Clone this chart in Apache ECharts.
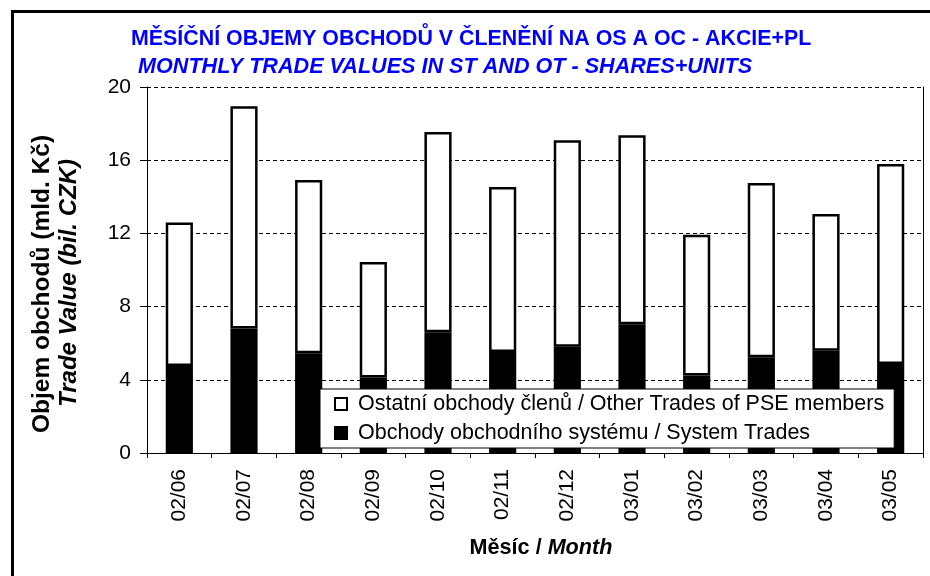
<!DOCTYPE html>
<html>
<head>
<meta charset="utf-8">
<script src="https://cdn.jsdelivr.net/npm/echarts@6/dist/echarts.min.js"></script>
<style>
  html, body { margin: 0; padding: 0; background: #fff; }
  #chart { width: 930px; height: 576px; }
</style>
</head>
<body>
<div id="chart"></div>
<script>
const months = ["02/06", "02/07", "02/08", "02/09", "02/10", "02/11", "02/12", "03/01", "03/02", "03/03", "03/04", "03/05"];
// system trades (black, bottom)
const systemTrades = [4.75, 6.81, 5.45, 4.12, 6.6, 5.52, 5.81, 7.03, 4.24, 5.23, 5.59, 4.86];
// other trades of members (white, stacked on top)
const otherTrades = [7.85, 12.14, 9.47, 6.32, 10.94, 9.02, 11.28, 10.33, 7.69, 9.52, 7.47, 10.93];
const yTicks = { min: 0, max: 20, interval: 4 };

const seriesNames = {
  system: "Obchody obchodního systému / System Trades",
  other: "Ostatní obchody členů / Other Trades of PSE members",
};

const FONT = "'Liberation Sans', Arial, sans-serif";
const chart = echarts.init(document.getElementById("chart"), null, { renderer: "canvas" });

chart.setOption({
  backgroundColor: "#fff",
  animation: false,
  textStyle: { fontFamily: FONT, color: "#000" },
  grid: { left: 147, right: 7, top: 87, bottom: 123 },
  legend: {
    orient: "vertical",
    left: 320,
    top: 389,
    padding: [4, 10, 4, 14],
    itemGap: 7,
    itemWidth: 12,
    itemHeight: 12,
    backgroundColor: "#fff",
    borderColor: "#000",
    borderWidth: 1,
    icon: "rect",
    data: [seriesNames.other, seriesNames.system],
    textStyle: { fontFamily: FONT, fontSize: 21.5, color: "#000", padding: [0, 0, 0, 6] },
  },
  xAxis: {
    type: "category",
    data: months,
    axisLine: { lineStyle: { color: "#000", width: 1 } },
    axisTick: { show: true, length: 5, lineStyle: { color: "#000" } },
    axisLabel: { rotate: 90, fontSize: 21, color: "#000", margin: 16, fontFamily: FONT },
  },
  yAxis: [
    {
      type: "value",
      min: yTicks.min,
      max: yTicks.max,
      interval: yTicks.interval,
      axisLine: { show: true, lineStyle: { color: "#000", width: 1 } },
      axisTick: { show: true, length: 7, lineStyle: { color: "#000" } },
      axisLabel: { fontSize: 21, color: "#000", margin: 16, fontFamily: FONT },
      splitLine: { show: true, lineStyle: { color: "#000", width: 1, type: [4, 3] } },
    },
    {
      type: "value",
      position: "right",
      min: yTicks.min,
      max: yTicks.max,
      interval: yTicks.interval,
      axisLine: { show: true, lineStyle: { color: "#000", width: 1 } },
      axisTick: { show: false },
      axisLabel: { show: false },
      splitLine: { show: false },
    },
  ],
  series: [
    {
      name: seriesNames.system,
      type: "bar",
      stack: "total",
      barWidth: "42%",
      data: systemTrades,
      itemStyle: { color: "#000", borderColor: "#000", borderWidth: 2 },
    },
    {
      name: seriesNames.other,
      type: "bar",
      stack: "total",
      barWidth: "42%",
      data: otherTrades,
      itemStyle: { color: "#fff", borderColor: "#000", borderWidth: 2.5 },
    },
  ],
  graphic: [
    {
      type: "rect",
      shape: { x: 12.5, y: 11.5, width: 1000, height: 700 },
      style: { fill: "none", stroke: "#000", lineWidth: 3 },
      silent: true,
    },
    {
      type: "text",
      x: 131,
      y: 39,
      style: {
        text: "MĚSÍČNÍ OBJEMY OBCHODŮ V ČLENĚNÍ NA OS A OC - AKCIE+PL",
        font: "bold 21.4px " + FONT,
        fill: "#0000ff",
        align: "left",
        verticalAlign: "middle",
      },
    },
    {
      type: "text",
      x: 138,
      y: 67,
      style: {
        text: "MONTHLY TRADE VALUES IN ST AND OT - SHARES+UNITS",
        font: "italic bold 21.6px " + FONT,
        fill: "#0000ff",
        align: "left",
        verticalAlign: "middle",
      },
    },
    {
      type: "text",
      x: 42,
      y: 284,
      rotation: Math.PI / 2,
      style: {
        text: "Objem obchodů (mld. Kč)",
        font: "bold 24.5px " + FONT,
        fill: "#000",
        align: "center",
        verticalAlign: "middle",
      },
    },
    {
      type: "text",
      x: 69,
      y: 283,
      rotation: Math.PI / 2,
      style: {
        text: "Trade Value (bil. CZK)",
        font: "italic bold 24px " + FONT,
        fill: "#000",
        align: "center",
        verticalAlign: "middle",
      },
    },
    {
      type: "text",
      x: 541,
      y: 548,
      style: {
        text: "{a|Měsíc / }{b|Month}",
        align: "center",
        verticalAlign: "middle",
        rich: {
          a: { fontFamily: FONT, fontWeight: "bold", fontSize: 21.6, fill: "#000" },
          b: { fontFamily: FONT, fontWeight: "bold", fontStyle: "italic", fontSize: 21.6, fill: "#000" },
        },
      },
    },
  ],
});
</script>
</body>
</html>
